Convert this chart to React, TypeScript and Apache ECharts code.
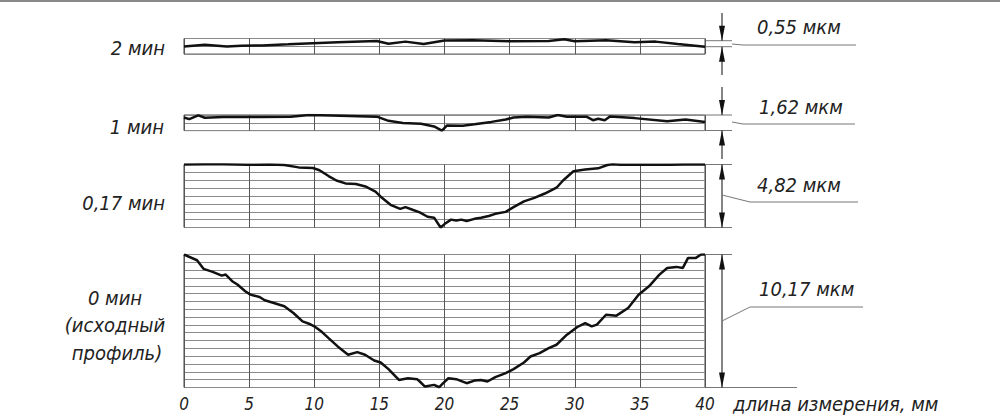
import React, { useEffect, useRef } from "react";
import * as echarts from "echarts";

// Profile height, µm, versus measurement length, mm
const profile2min: [number, number][] = [
  [0, 0.59], [1.6, 0.72], [3.3, 0.59], [4.4, 0.64], [6.0, 0.67], [8.0, 0.75], [9.9, 0.83],
  [11.8, 0.91], [14.8, 1.01], [15.7, 0.8], [17.0, 0.96], [18.4, 0.77], [20.0, 1.04],
  [22.2, 1.07], [25.0, 0.99], [28.0, 1.01], [29.2, 1.15], [30.0, 0.99], [32.4, 1.07],
  [34.6, 0.91], [36.2, 0.96], [37.9, 0.77], [40, 0.56],
];
const profile1min: [number, number][] = [
  [0, 1.01], [0.4, 0.88], [1.1, 1.17], [1.6, 0.99], [3.0, 1.04], [5.8, 1.04], [8.2, 1.07],
  [9.6, 1.2], [11.3, 1.17], [14.8, 1.07], [15.7, 0.75], [16.8, 0.59], [18.2, 0.53],
  [19.2, 0.32], [19.8, 0.0], [20.2, 0.4], [21.4, 0.37], [22.3, 0.48], [23.6, 0.67],
  [24.7, 0.85], [25.3, 1.01], [26.3, 1.07], [28.0, 1.01], [28.7, 1.2], [29.4, 1.07],
  [30.9, 1.07], [31.4, 0.8], [31.8, 0.91], [32.3, 0.8], [32.7, 1.09], [34.6, 0.96],
  [37.1, 0.72], [38.5, 0.85], [40, 0.67],
];
const profile017min: [number, number][] = [
  [0, 4.8], [1.6, 4.82], [3.0, 4.82], [4.9, 4.78], [6.6, 4.8], [7.7, 4.76], [8.8, 4.58],
  [9.9, 4.53], [10.4, 4.36], [11.1, 3.92], [11.7, 3.58], [12.4, 3.36], [13.2, 3.32],
  [14.0, 3.1], [14.7, 2.74], [15.2, 2.26], [15.9, 1.7], [16.6, 1.42], [17.0, 1.55],
  [17.6, 1.33], [18.1, 1.15], [18.7, 0.82], [19.2, 0.75], [19.7, 0.0], [20.0, 0.26],
  [20.5, 0.6], [20.9, 0.53], [21.3, 0.6], [21.7, 0.49], [22.3, 0.66], [22.8, 0.75],
  [23.4, 0.88], [23.9, 1.04], [24.7, 1.19], [25.3, 1.55], [26.1, 1.99], [26.9, 2.26],
  [27.7, 2.59], [28.6, 3.03], [29.1, 3.58], [29.9, 4.29], [30.8, 4.42], [31.8, 4.51],
  [32.5, 4.76], [32.9, 4.82], [33.5, 4.78], [34.6, 4.78], [35.9, 4.78], [37.3, 4.78],
  [38.4, 4.8], [40, 4.8],
];
const profile0min: [number, number][] = [
  [0, 10.2], [1.0, 9.76], [1.5, 9.1], [2.2, 8.87], [2.9, 8.58], [3.2, 8.66], [3.7, 8.15],
  [4.1, 7.9], [4.7, 7.38], [5.1, 7.12], [5.8, 6.94], [6.2, 6.69], [6.9, 6.48], [7.7, 6.23],
  [8.4, 5.71], [9.1, 5.07], [9.6, 4.89], [10.0, 4.69], [10.6, 4.25], [11.1, 3.79],
  [11.8, 3.15], [12.6, 2.51], [13.3, 2.71], [13.9, 2.51], [14.6, 2.07], [15.1, 1.92],
  [15.7, 1.41], [16.5, 0.58], [17.2, 0.71], [17.9, 0.64], [18.1, 0.46], [18.5, 0.07],
  [19.2, 0.2], [19.6, 0.02], [19.9, 0.33], [20.3, 0.71], [20.9, 0.64], [21.7, 0.33],
  [22.3, 0.53], [22.8, 0.58], [23.3, 0.46], [23.9, 0.79], [24.7, 1.1], [25.3, 1.41],
  [26.1, 1.92], [26.6, 2.38], [27.3, 2.64], [28.0, 3.02], [28.6, 3.28], [29.4, 4.05],
  [30.2, 4.64], [30.8, 4.94], [31.3, 4.69], [31.7, 4.82], [32.4, 5.58], [33.2, 5.51],
  [34.1, 6.1], [34.9, 7.12], [35.7, 7.76], [36.5, 8.66], [37.1, 9.17], [37.8, 9.25],
  [38.3, 9.17], [38.7, 9.94], [39.3, 9.94], [39.7, 10.2], [40, 10.2],
];

const panelLabels = ["2 мин", "1 мин", "0,17 мин"];
const basePanelLabel = ["0 мин", "(исходный", "профиль)"];
const heightLabels = ["0,55 мкм", "1,62 мкм", "4,82 мкм", "10,17 мкм"];
const yMaxes = [1.2, 1.2, 4.8, 10.2];
const xAxisName = "длина измерения, мм";

const FONT = '"Liberation Sans Narrow", "DejaVu Sans Condensed", "DejaVu Sans", sans-serif';

export default function App() {
  const ref = useRef<HTMLDivElement>(null);
  useEffect(() => {
    if (!ref.current) return;
    const chart = echarts.init(ref.current, undefined, { renderer: "svg" });
    const tops = [38.5, 115, 164.5, 254.5];
    const heights = [15.6, 15.6, 63, 133];
    const profiles = [profile2min, profile1min, profile017min, profile0min];

    const grids = tops.map((t, i) => ({
      left: 184, width: 521, top: t, height: heights[i],
      show: true, borderColor: "#444", borderWidth: 1,
    }));
    const xAxes = tops.map((_, i) => ({
      type: "value", gridIndex: i, min: 0, max: 40, interval: 5,
      axisLine: { show: false }, axisTick: { show: false },
      splitLine: { show: true, lineStyle: { color: "#555", width: 1 } },
      axisLabel: i === 3
        ? { show: true, fontFamily: FONT, fontStyle: "italic", fontSize: 17, color: "#222", margin: 8 }
        : { show: false },
    }));
    const yAxes = tops.map((_, i) => ({
      type: "value", gridIndex: i, min: 0, max: yMaxes[i], interval: 0.6,
      axisLine: { show: false }, axisTick: { show: false }, axisLabel: { show: false },
      splitLine: { show: true, lineStyle: { color: "#8a8a8a", width: 1 } },
    }));
    const series = profiles.map((p, i) => ({
      type: "line", xAxisIndex: i, yAxisIndex: i, data: p, showSymbol: false,
      lineStyle: { color: "#111", width: 2.5 }, silent: true,
    }));

    const AX = 722;
    const gray = "#777";
    const ln = (x1: number, y1: number, x2: number, y2: number, w = 1, c = gray) => ({
      type: "line", shape: { x1, y1, x2, y2 }, style: { stroke: c, lineWidth: w }, silent: true,
    });
    const arrow = (tip: number, dir: 1 | -1) => ({
      type: "polygon",
      shape: { points: [[AX, tip], [AX - 3, tip - dir * 15], [AX + 3, tip - dir * 15]] },
      style: { fill: "#111" }, silent: true,
    });
    const txt = (x: number, y: number, text: string, align = "left", size = 20) => ({
      type: "text", x, y,
      style: {
        text, fill: "#222", font: `italic ${size}px ${FONT}`,
        textAlign: align, textVerticalAlign: "middle",
      },
      silent: true,
    });

    const graphic: any[] = [
      { type: "rect", shape: { x: 0, y: 0, width: 1000, height: 2 }, style: { fill: "#888" }, silent: true },
      // panel 1 dimension
      ln(705, 40.7, 732, 40.7), ln(705, 46.7, 732, 46.7),
      ln(AX, 13, AX, 40.7, 1.2, "#333"), arrow(40.7, 1),
      ln(AX, 46.7, AX, 75, 1.2, "#333"), arrow(46.7, -1),
      ln(732, 44, 743, 45), ln(743, 45, 856, 45),
      // panel 2 dimension
      ln(705, 115, 732, 115), ln(705, 130.5, 732, 130.5),
      ln(AX, 87, AX, 115, 1.2, "#333"), arrow(115, 1),
      ln(AX, 130.5, AX, 159, 1.2, "#333"), arrow(130.5, -1),
      ln(732, 122, 743, 124), ln(743, 124, 855, 124),
      // panel 3 dimension
      ln(705, 164.5, 732, 164.5), ln(705, 227.5, 732, 227.5),
      ln(AX, 164.5, AX, 227.5, 1.2, "#333"), arrow(164.5, -1), arrow(227.5, 1),
      ln(AX, 195, 750, 202), ln(750, 202, 858, 202),
      // panel 4 dimension
      ln(705, 254.5, 732, 254.5), ln(705, 387.5, 797, 387.5),
      ln(AX, 254.5, AX, 387.5, 1.2, "#333"), arrow(254.5, -1), arrow(387.5, 1),
      ln(AX, 321, 750, 307), ln(750, 307, 863, 307),
      // texts
      txt(757, 27, heightLabels[0]),
      txt(759, 107, heightLabels[1]),
      txt(757, 185, heightLabels[2]),
      txt(759, 289, heightLabels[3]),
      txt(165, 48, panelLabels[0], "right"),
      txt(164, 127, panelLabels[1], "right"),
      txt(165, 203, panelLabels[2], "right"),
      txt(115, 298, basePanelLabel[0], "center"),
      txt(115, 325, basePanelLabel[1], "center"),
      txt(117, 353, basePanelLabel[2], "center"),
      txt(733, 404, xAxisName, "left"),
    ];

    chart.setOption({
      animation: false,
      backgroundColor: "#fff",
      grid: grids,
      xAxis: xAxes,
      yAxis: yAxes,
      series,
      graphic,
    } as any);
    return () => chart.dispose();
  }, []);
  return (
    <div
      ref={ref}
      style={{ position: "fixed", left: 0, top: 0, width: 1000, height: 419, background: "#fff" }}
    />
  );
}
